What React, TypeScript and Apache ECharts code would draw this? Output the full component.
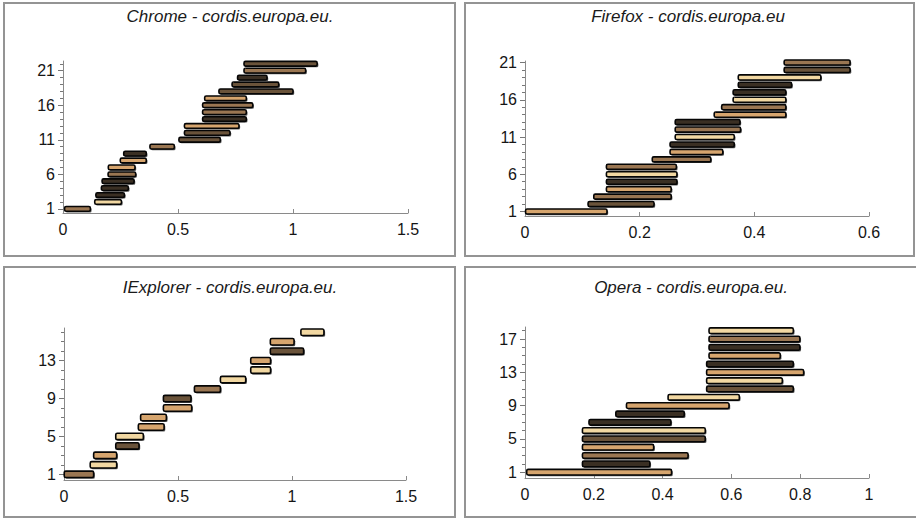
import React, { useEffect, useRef } from "react";
import * as echarts from "echarts";

// ---------- data ----------
const chromeStart = [0.007, 0.138, 0.143, 0.167, 0.17, 0.196, 0.197, 0.249, 0.264, 0.378, 0.504, 0.528, 0.528, 0.607, 0.607, 0.607, 0.616, 0.678, 0.735, 0.759, 0.787, 0.787];
const chromeEnd = [0.119, 0.254, 0.267, 0.284, 0.309, 0.316, 0.313, 0.362, 0.362, 0.484, 0.684, 0.726, 0.765, 0.797, 0.797, 0.825, 0.797, 1.0, 0.938, 0.887, 1.055, 1.105];
const chromeShade = ["M", "C", "K", "K", "K", "M", "T", "T", "K", "M", "D", "D", "T", "K", "M", "M", "T", "D", "D", "K", "M", "D"];
const chromeTicks = [1, 6, 11, 16, 21];

const firefoxStart = [0.001, 0.11, 0.12, 0.142, 0.142, 0.142, 0.142, 0.222, 0.253, 0.253, 0.262, 0.262, 0.262, 0.33, 0.343, 0.363, 0.363, 0.372, 0.372, 0.452, 0.452];
const firefoxEnd = [0.143, 0.225, 0.255, 0.255, 0.265, 0.265, 0.264, 0.324, 0.345, 0.365, 0.365, 0.376, 0.375, 0.455, 0.455, 0.455, 0.455, 0.465, 0.516, 0.567, 0.567];
const firefoxShade = ["T", "D", "M", "T", "K", "C", "M", "M", "T", "K", "C", "M", "K", "T", "M", "C", "K", "K", "C", "D", "M"];
const firefoxTicks = [1, 6, 11, 16, 21];

const explorerStart = [0.001, 0.115, 0.13, 0.227, 0.227, 0.326, 0.336, 0.436, 0.436, 0.572, 0.686, 0.819, 0.819, 0.905, 0.905, 1.039];
const explorerEnd = [0.13, 0.231, 0.231, 0.329, 0.348, 0.439, 0.449, 0.56, 0.557, 0.686, 0.797, 0.906, 0.906, 1.051, 1.009, 1.14];
const explorerShade = ["M", "C", "T", "D", "C", "T", "T", "T", "D", "M", "C", "C", "T", "D", "T", "C"];
const explorerTicks = [1, 5, 9, 13];

const operaStart = [0.005, 0.167, 0.167, 0.167, 0.167, 0.167, 0.186, 0.264, 0.295, 0.416, 0.528, 0.528, 0.528, 0.528, 0.535, 0.535, 0.535, 0.535];
const operaEnd = [0.426, 0.363, 0.474, 0.374, 0.524, 0.524, 0.424, 0.463, 0.593, 0.623, 0.78, 0.748, 0.81, 0.78, 0.742, 0.799, 0.799, 0.78];
const operaShade = ["T", "K", "M", "T", "D", "C", "K", "K", "T", "C", "D", "C", "T", "K", "T", "K", "M", "C"];
const operaTicks = [1, 5, 9, 13, 17];

const titles = [
  "Chrome - cordis.europa.eu.",
  "Firefox - cordis.europa.eu",
  "IExplorer - cordis.europa.eu.",
  "Opera - cordis.europa.eu.",
];

// ---------- styles / layout ----------
const palette: Record<string, string> = {
  C: "#f2d8a2",
  T: "#d6a56e",
  M: "#9a7652",
  D: "#6a533a",
  K: "#3a2f23",
};

const FONT = "Arial, 'Liberation Sans', sans-serif";

type Panel = {
  start: number[];
  end: number[];
  shade: string[];
  ticks: number[];
  xMax: number;
  xInterval: number;
  yMin: number;
  yMax: number;
  grid: { left: number; top: number; width: number; height: number };
  box: { x: number; y: number; w: number; h: number };
  titlePos: { x: number; y: number };
};

const panels: Panel[] = [
  {
    start: chromeStart, end: chromeEnd, shade: chromeShade, ticks: chromeTicks,
    xMax: 1.5, xInterval: 0.5, yMin: 0.4, yMax: 22.4,
    grid: { left: 63, top: 61, width: 345, height: 152 },
    box: { x: 4, y: 3, w: 451, h: 253 },
    titlePos: { x: 230, y: 18 },
  },
  {
    start: firefoxStart, end: firefoxEnd, shade: firefoxShade, ticks: firefoxTicks,
    xMax: 0.6, xInterval: 0.2, yMin: 0.4, yMax: 21.2,
    grid: { left: 525, top: 61, width: 344, height: 155 },
    box: { x: 465, y: 3, w: 449, h: 253 },
    titlePos: { x: 688, y: 18 },
  },
  {
    start: explorerStart, end: explorerEnd, shade: explorerShade, ticks: explorerTicks,
    xMax: 1.5, xInterval: 0.5, yMin: 0.4, yMax: 16.45,
    grid: { left: 64, top: 328, width: 342, height: 152 },
    box: { x: 4, y: 267, w: 451, h: 250 },
    titlePos: { x: 230, y: 289 },
  },
  {
    start: operaStart, end: operaEnd, shade: operaShade, ticks: operaTicks,
    xMax: 1, xInterval: 0.2, yMin: 0.3, yMax: 18.45,
    grid: { left: 525, top: 327, width: 344, height: 151 },
    box: { x: 465, y: 267, w: 454, h: 250 },
    titlePos: { x: 691, y: 289 },
  },
];

function buildOption() {
  const grid: any[] = [];
  const xAxis: any[] = [];
  const yAxis: any[] = [];
  const series: any[] = [];
  const graphic: any[] = [];

  panels.forEach((p, i) => {
    grid.push({ ...p.grid, containLabel: false });
    xAxis.push({
      type: "value",
      gridIndex: i,
      min: 0,
      max: p.xMax,
      interval: p.xInterval,
      splitLine: { show: false },
      axisLine: { show: true, lineStyle: { color: "#8a8a8a", width: 1 } },
      axisTick: { show: true, inside: true, length: 4, lineStyle: { color: "#8a8a8a" } },
      axisLabel: { color: "#151515", fontSize: 16, fontFamily: FONT, margin: 8 },
    });
    const allRows = p.start.map((_, k) => k + 1);
    yAxis.push({
      type: "value",
      gridIndex: i,
      position: "left",
      min: p.yMin,
      max: p.yMax,
      splitLine: { show: false },
      axisLine: { show: true, lineStyle: { color: "#8a8a8a", width: 1 } },
      axisTick: { show: true, length: 3, customValues: allRows, lineStyle: { color: "#777" } },
      axisLabel: { color: "#151515", fontSize: 16, fontFamily: FONT, margin: 8, customValues: p.ticks },
    });
    yAxis.push({
      type: "value",
      gridIndex: i,
      position: "left",
      offset: 0,
      min: p.yMin,
      max: p.yMax,
      splitLine: { show: false },
      axisLine: { show: false },
      axisTick: { show: true, length: 5, customValues: p.ticks, lineStyle: { color: "#777" } },
      axisLabel: { show: false },
    });
    const data = p.start.map((s, k) => [s, p.end[k], k + 1]);
    series.push({
      type: "custom",
      xAxisIndex: i,
      yAxisIndex: i * 2,
      encode: { x: [0, 1], y: 2 },
      data,
      renderItem: (params: any, api: any) => {
        const a = api.coord([api.value(0), api.value(2)]);
        const b = api.coord([api.value(1), api.value(2)]);
        const h = api.size([0, 1])[1] * 0.68;
        const w = b[0] - a[0];
        const fill = palette[p.shade[params.dataIndex]];
        return {
          type: "group",
          children: [
            {
              type: "rect",
              shape: { x: a[0] + 1.2, y: a[1] - h / 2 + 1.2, width: w, height: h, r: 1.5 },
              style: { fill: "#5a5a5a" },
            },
            {
              type: "rect",
              shape: { x: a[0], y: a[1] - h / 2, width: w, height: h, r: 1.5 },
              style: { fill, stroke: "#050505", lineWidth: 1.6 },
            },
          ],
        };
      },
    });
    graphic.push({
      type: "rect",
      shape: { x: p.box.x, y: p.box.y, width: p.box.w, height: p.box.h },
      style: { fill: "none", stroke: "#949494", lineWidth: 2 },
      silent: true,
    });
  });

  const title = panels.map((p, i) => ({
    text: titles[i],
    left: p.titlePos.x,
    top: p.titlePos.y - 10,
    textAlign: "center",
    padding: 0,
    textStyle: {
      fontSize: 17,
      fontStyle: "italic",
      fontWeight: "normal",
      fontFamily: FONT,
      color: "#1a1a1a",
    },
  }));

  return {
    animation: false,
    backgroundColor: "#ffffff",
    title,
    grid,
    xAxis,
    yAxis,
    series,
    graphic,
  };
}

export default function App() {
  const ref = useRef<HTMLDivElement>(null);
  useEffect(() => {
    if (!ref.current) return;
    const chart = echarts.init(ref.current, undefined, { renderer: "svg" });
    chart.setOption(buildOption() as any);
    return () => chart.dispose();
  }, []);
  return (
    <div
      ref={ref}
      style={{ position: "absolute", left: 0, top: 0, width: 916, height: 518, background: "#fff" }}
    />
  );
}
